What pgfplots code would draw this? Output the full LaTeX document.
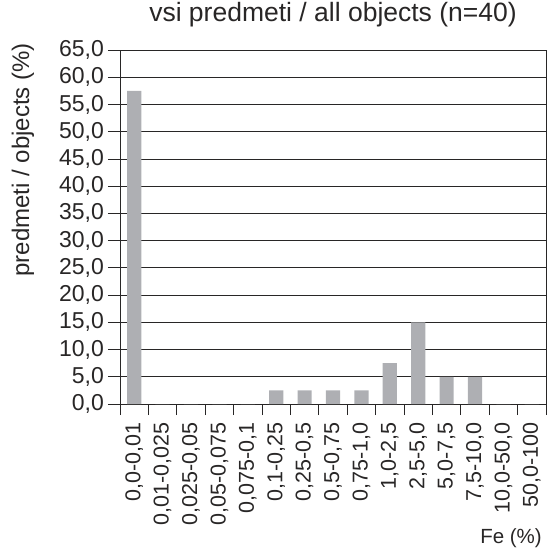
\documentclass[border=0pt]{standalone}
\usepackage{pgfplots}
\pgfplotsset{compat=1.18}
\usepackage{fontspec}
\setmainfont{Liberation Sans}
\definecolor{bargray}{RGB}{174,175,179}
\definecolor{ink}{RGB}{40,38,38}
\begin{document}
\fontsize{20}{24}\selectfont
\begin{tikzpicture}
\begin{axis}[
  scale only axis,
  width=426pt, height=354pt,
  xmin=-0.5, xmax=14.5,
  ymin=0, ymax=65,
  ytick={0,5,...,65},
  xtick={0,...,14},
  xticklabels={{0,0-0,01},{0,01-0,025},{0,025-0,05},{0,05-0,075},{0,075-0,1},{0,1-0,25},{0,25-0,5},{0,5-0,75},{0,75-1,0},{1,0-2,5},{2,5-5,0},{5,0-7,5},{7,5-10,0},{10,0-50,0},{50,0-100}},
  xticklabel style={rotate=90, anchor=east, font=\fontsize{21.5}{25}\selectfont, text=ink, inner sep=6pt},
  yticklabel style={font=\fontsize{23}{27}\selectfont, text=ink, inner sep=4pt},
  minor xtick={-0.5,0.5,...,14.5},
  major x tick style={draw=none},
  x tick style={ink, line width=0.8pt},
  y tick style={ink, line width=0.8pt},
  minor tick length=11pt,
  major tick length=12pt,
  tick align=outside,
  xtick pos=lower, ytick pos=left,
  ymajorgrids,
  grid style={ink, line width=0.8pt},
  axis line style={ink, line width=0.8pt},
  /pgf/number format/.cd, use comma, fixed, fixed zerofill, precision=1, assume math mode=true,
  /pgfplots/.cd,
  title={vsi predmeti / all objects (n=40)},
  title style={font=\fontsize{26.5}{30}\selectfont, text=ink, at={(rel axis cs:0.5,1)}, anchor=base, yshift=23pt, inner sep=0pt},
  ylabel={predmeti / objects (\%)},
  ylabel style={font=\fontsize{24}{28}\selectfont, text=ink, at={(ticklabel cs:0.69)}},
  ylabel shift=14pt,
  xlabel={Fe (\%)},
  xlabel style={font=\fontsize{20.5}{24}\selectfont, text=ink, at={(rel axis cs:1,0)}, anchor=base east, yshift=-139pt, xshift=-4pt, inner sep=0pt},
  ybar, bar width=14.2pt,
]
\addplot[fill=bargray, draw=none] coordinates {
(0,57.5) (1,0) (2,0) (3,0) (4,0) (5,2.5) (6,2.5) (7,2.5) (8,2.5) (9,7.5) (10,15) (11,5) (12,5) (13,0) (14,0)};
\end{axis}
\path (current axis.south west) ++(-120pt,-145pt) rectangle ++(551pt,549pt);
\end{tikzpicture}
\end{document}
